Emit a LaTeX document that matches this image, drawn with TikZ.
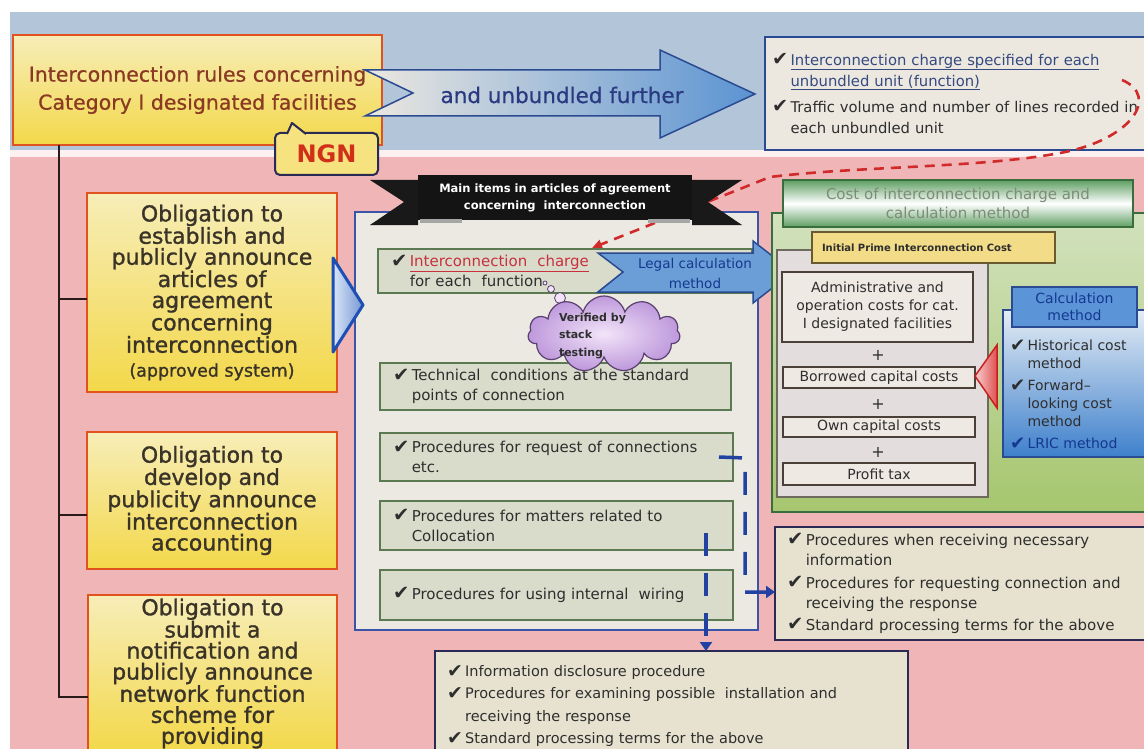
\documentclass[tikz,border=0pt]{standalone}
\usepackage{fontspec}
\setmainfont{DejaVu Sans}
\newfontfamily\heavyfont[FakeBold=1.2]{DejaVu Sans}
\newfontfamily\mediumfont[FakeBold=0.6]{DejaVu Sans}
\usetikzlibrary{shapes.symbols,arrows.meta,calc}

% palette
\definecolor{bandblue}{HTML}{B3C6D9}
\definecolor{bandpink}{HTML}{EFB5B7}
\definecolor{obred}{HTML}{E0521E}
\definecolor{yellowtop}{HTML}{F7EDB8}
\definecolor{yellowbot}{HTML}{F3D84A}
\definecolor{obtext}{HTML}{3A3328}
\definecolor{titletext}{HTML}{8A3A22}
\definecolor{navy}{HTML}{2A4A92}
\definecolor{arrowblue}{HTML}{5A93D2}
\definecolor{paper}{HTML}{ECE8E0}
\definecolor{panelfill}{HTML}{ECE8E2}
\definecolor{panelline}{HTML}{3A55A8}
\definecolor{itemfill}{HTML}{D9DCCB}
\definecolor{itemline}{HTML}{5B7A52}
\definecolor{itemtext}{HTML}{2E2E2E}
\definecolor{chargered}{HTML}{C8303E}
\definecolor{dashred}{HTML}{D02A2A}
\definecolor{greenline}{HTML}{3A6E3E}
\definecolor{greentop}{HTML}{D2E2BE}
\definecolor{greenbot}{HTML}{A6C66E}
\definecolor{greenmid}{HTML}{5E9E62}
\definecolor{greentext}{HTML}{7C8C78}
\definecolor{marble}{HTML}{E3DDDE}
\definecolor{marbleline}{HTML}{6E6A5E}
\definecolor{costfill}{HTML}{EFE9E3}
\definecolor{costline}{HTML}{4A4038}
\definecolor{primefill}{HTML}{F2DC88}
\definecolor{primeline}{HTML}{6A5A30}
\definecolor{calclight}{HTML}{E4ECF4}
\definecolor{calcblue}{HTML}{3E80CC}
\definecolor{calchead}{HTML}{5C94D8}
\definecolor{calcnavy}{HTML}{143890}
\definecolor{procfill}{HTML}{E6E2CF}
\definecolor{procline}{HTML}{2A2A55}
\definecolor{lavtop}{HTML}{F2E4F8}
\definecolor{lavbot}{HTML}{BE98DC}
\definecolor{lavline}{HTML}{5A4070}
\definecolor{connblue}{HTML}{2242A2}
\definecolor{treeline}{HTML}{2A1A1A}
\definecolor{ngnfill}{HTML}{F6E27E}
\definecolor{ngntext}{HTML}{D0301A}
\definecolor{unbtext}{HTML}{2A3A80}
\definecolor{linkblue}{HTML}{344A80}
\definecolor{tribluein}{HTML}{D8E6F8}
\definecolor{triblueline}{HTML}{1E4FB4}
\definecolor{trired}{HTML}{C82020}
\definecolor{tripink}{HTML}{F6D0D0}
\definecolor{trirose}{HTML}{E05050}

\newcommand\setfs[2]{\fontsize{#1}{#2}\selectfont}
\newcommand\chk{\makebox[1.25em][l]{\raisebox{-0.05em}{\scalebox{1.3}{\bfseries ✔}}}}
\newcommand\chkind{\hspace*{1.25em}}

\tikzset{
  every node/.style={inner sep=0pt, outer sep=0pt},
  obox/.style={draw=obred, line width=2.2pt, top color=yellowtop, bottom color=yellowbot,
    text=obtext, align=center, anchor=north west, font=\heavyfont\setfs{22}{21}},
  tree/.style={draw=treeline, line width=2pt},
  itembox/.style={draw=itemline, line width=1.6pt, fill=itemfill, anchor=north west,
    align=left, inner xsep=13pt, text=itemtext, font=\setfs{15}{20}},
  procbox/.style={draw=procline, line width=1.6pt, fill=procfill, anchor=north west,
    align=left, inner xsep=12pt, text=itemtext},
  costbox/.style={draw=costline, line width=1.3pt, fill=costfill, anchor=north west,
    align=center, font=\setfs{14}{18}, text=itemtext},
  plus/.style={font=\setfs{16}{16}, text=itemtext},
  conn/.style={draw=connblue, line width=3.5pt, dash pattern=on 23pt off 17pt},
  conntip/.style={-{Triangle[length=9pt,width=12pt]}},
  reddash/.style={draw=dashred, line width=2.6pt, dash pattern=on 10pt off 7pt,
    -{Triangle[length=10pt,width=9pt]}},
}

\begin{document}
\begin{tikzpicture}[x=1pt,y=-1pt]
\useasboundingbox (0,0) rectangle (1144,749);

% page background: blue band on top, pink field below
\fill[white] (0,0) rectangle (1144,749);
\fill[bandblue] (10,12) rectangle (1144,150);
\fill[white!80!bandpink] (10,150) rectangle (1144,157);
\fill[bandpink] (10,157) rectangle (1144,749);

% ---------- left column ----------
\node[obox, minimum width=369pt, minimum height=110pt, text=titletext,
      font=\mediumfont\setfs{20.5}{28}] (title) at (13,35)
  {Interconnection rules concerning\\Category I designated facilities};

\node[obox, minimum width=250pt, minimum height=199pt] (ob1) at (87,193)
  {Obligation to\\establish and\\publicly announce\\articles of\\agreement\\concerning\\interconnection\\[3pt]
   {\setfs{17.5}{21}(approved system)}};
\node[obox, minimum width=250pt, minimum height=137pt] (ob2) at (87,432)
  {Obligation to\\develop and\\publicity announce\\interconnection\\accounting};
\node[obox, minimum width=249pt, minimum height=157pt] (ob3) at (88,595)
  {Obligation to\\submit a\\notification and\\publicly announce\\network function\\scheme for\\providing};

% tree joining the obligations to the rules
\coordinate (trunk) at (59,145);
\coordinate (b1) at ([yshift=-6.5pt]ob1.west);
\coordinate (b2) at ([yshift=-14.5pt]ob2.west);
\coordinate (b3) at ([yshift=-23.5pt]ob3.west);
\draw[tree] (trunk) -- (trunk |- b3) -- (b3);
\draw[tree] (trunk |- b1) -- (b1);
\draw[tree] (trunk |- b2) -- (b2);

% ---------- big arrow "and unbundled further" ----------
\path[draw=navy, line width=1.5pt, left color=paper, right color=arrowblue]
  (365,70) -- (660,70) -- (660,50) -- (755,94) -- (660,138) -- (660,116)
  -- (365,116) -- (413,93) -- cycle;
\node[text=unbtext, font=\mediumfont\setfs{21.5}{24}] (unb) at (562,95) {and unbundled further};

% NGN callout
\node[draw=procline, line width=2pt, rounded corners=5pt, fill=ngnfill,
      minimum width=103pt, minimum height=42pt, anchor=north west, text=ngntext,
      font=\bfseries\setfs{24}{24}] (ngn) at (275,133) {NGN};
\fill[ngnfill] (287,135) -- (292,123) -- (306,135) -- cycle;
\draw[procline, line width=2pt, line join=round] (287,134) -- (292,123) -- (306,134);

% ---------- unbundled units box ----------
\node[draw=navy, line width=1.6pt, fill=paper, anchor=north west, minimum width=385pt,
      minimum height=113pt, text width=371pt, inner xsep=7pt, align=left,
      text=itemtext, font=\setfs{14.8}{21}] (unit) at (765,37)
  {\chk\textcolor{linkblue}{\underline{Interconnection charge specified for each}}\\
   \chkind\textcolor{linkblue}{\underline{unbundled unit (function)}}\\[5pt]
   \chk Traffic volume and number of lines recorded in\\
   \chkind each unbundled unit};

% ---------- main items panel ----------
\node[draw=panelline, line width=1.6pt, fill=panelfill, anchor=north west,
      minimum width=403pt, minimum height=418pt] (panel) at (355,212) {};

% dashed red link from the unbundled units to the charge item
\coordinate (rdA) at (1122,80);
\coordinate (rdB) at (592,248);
\draw[reddash] (rdA) .. controls (1160,96) and (1132,140) .. (1060,153)
  .. controls (980,168) and (860,166) .. (770,177) -- (rdB);

% black ribbon banner
\fill[black!90] (370,180) -- (418,180) -- (418,225) -- (370,225) -- (404,202) -- cycle;
\fill[black!90] (692,180) -- (742,180) -- (708,202) -- (742,225) -- (692,225) -- cycle;
\node[fill=black!92, minimum width=274pt, minimum height=45pt, anchor=north west,
      text=white, align=center, font=\bfseries\setfs{11.5}{17}] (banner) at (418,175)
  {Main items in articles of agreement\\concerning\ \ interconnection};
\fill[black!35] (420,219) rectangle (462,223);
\fill[black!35] (648,219) rectangle (690,223);

% items
\node[itembox, minimum width=374pt, minimum height=44pt, text width=348pt] (it1) at (378,249)
  {\chk\textcolor{chargered}{\underline{Interconnection\ \ charge}}\\\chkind for each\ \ function};
\node[itembox, minimum width=351pt, minimum height=47pt, text width=325pt] (it2) at (380,363)
  {\chk Technical\ \ conditions at the standard\\\chkind points of connection};
\node[itembox, minimum width=353pt, minimum height=48pt, text width=327pt] (it3) at (380,433)
  {\chk Procedures for request of connections\\\chkind etc.};
\node[itembox, minimum width=353pt, minimum height=49pt, text width=327pt] (it4) at (380,501)
  {\chk Procedures for matters related to\\\chkind Collocation};
\node[itembox, minimum width=353pt, minimum height=50pt, text width=327pt] (it5) at (380,570)
  {\chk Procedures for using internal\ \ wiring};

% legal calculation arrow
\path[draw=navy, line width=1.5pt, fill=arrowblue!90!white]
  (598,253) -- (753,253) -- (753,241) -- (793,272) -- (753,303) -- (753,292)
  -- (598,292) -- (623,272) -- cycle;
\node[text=calcnavy, align=center, font=\setfs{13.5}{20}] (legal) at (695,273)
  {Legal calculation\\method};

% thought bubble
\draw[lavline, line width=0.8pt, fill=lavtop] (545,283) circle (2pt);
\draw[lavline, line width=0.8pt, fill=lavtop] (551,289) circle (3.5pt);
\draw[lavline, line width=0.8pt, fill=lavtop] (560,298) circle (5.5pt);
\node[cloud, cloud puffs=11, cloud ignores aspect, minimum width=152pt, minimum height=76pt,
      draw=lavline, line width=1.2pt, inner color=lavtop, outer color=lavbot] (cloud) at (604,334) {};
\node[anchor=west, align=left, text=itemtext, font=\bfseries\setfs{11}{17.5}] (cloudtxt) at (559,336)
  {Verified by\\stack\\testing};

% ---------- cost panel ----------
\node[draw=greenline, line width=1.5pt, top color=greentop, bottom color=greenbot,
      anchor=north west, minimum width=378pt, minimum height=299pt] (green) at (772,213) {};
\node[draw=greenline, line width=1.5pt, top color=greenmid, bottom color=greenmid, middle color=white,
      anchor=north west, minimum width=350pt, minimum height=47pt, align=center,
      text=greentext, font=\setfs{15}{19}] (costtitle) at (783,180)
  {Cost of interconnection charge and\\calculation method};

\node[draw=marbleline, line width=1.3pt, fill=marble, anchor=north west,
      minimum width=211pt, minimum height=247pt] (marb) at (777,250) {};
\node[draw=primeline, line width=1.3pt, fill=primefill, anchor=north west,
      minimum width=243pt, minimum height=31pt, text width=223pt, inner xsep=10pt,
      align=left, text=itemtext, font=\bfseries\setfs{10}{12}] (prime) at (812,232)
  {Initial Prime Interconnection Cost};

\node[costbox, minimum width=191pt, minimum height=70pt] (admin) at (782,272)
  {Administrative and\\operation costs for cat.\\I designated facilities};
\node[plus] (p1) at (878,355) {+};
\node[costbox, minimum width=192pt, minimum height=21pt] (borrow) at (783,367) {Borrowed capital costs};
\node[plus] (p2) at (878,404) {+};
\node[costbox, minimum width=192pt, minimum height=20pt] (own) at (783,417) {Own capital costs};
\node[plus] (p3) at (878,452) {+};
\node[costbox, minimum width=192pt, minimum height=22pt] (profit) at (783,463) {Profit tax};

% red pointer from the calculation methods
\path[draw=trired, line width=1.5pt, left color=tripink, right color=trirose]
  (997,345) -- (975,376) -- (997,408) -- cycle;

% calculation method
\node[draw=navy, line width=1.5pt, top color=calclight, bottom color=calcblue,
      anchor=north west, minimum width=147pt, minimum height=147pt] (calcbody) at (1003,310) {};
\node[draw=navy, line width=1.5pt, fill=calchead, anchor=north west,
      minimum width=125pt, minimum height=40pt, align=center, text=calcnavy,
      font=\setfs{14}{17}] (calchd) at (1012,287) {Calculation\\method};
\node[anchor=north west, align=left, text=itemtext, font=\setfs{14}{18}] (calctxt) at (1010,340)
  {\chk Historical cost\\\chkind method\\[4pt]\chk Forward–\\\chkind looking cost\\\chkind method\\[4pt]
   \textcolor{calcnavy}{\chk LRIC method}};

% ---------- procedure boxes ----------
\node[procbox, minimum width=375pt, minimum height=113pt, text width=351pt,
      font=\setfs{15}{20}] (lr) at (775,527)
  {\chk Procedures when receiving necessary\\\chkind information\\[3pt]
   \chk Procedures for requesting connection and\\\chkind receiving the response\\[2pt]
   \chk Standard processing terms for the above};
\node[procbox, minimum width=473pt, minimum height=110pt, text width=449pt,
      font=\setfs{14.5}{22.5}] (bot) at (435,651)
  {\chk Information disclosure procedure\\
   \chk Procedures for examining possible\ \ installation and\\\chkind receiving the response\\
   \chk Standard processing terms for the above};

% dashed blue connectors to the procedure boxes
\coordinate (c1s) at ([xshift=-14pt]it3.east);
\coordinate (c1k) at (745,458);
\draw[conn, conntip] (c1s) -- (c1k) -- (c1k |- lr.west) ++(0,8.5) -- ([yshift=-8.5pt]lr.west);
\coordinate (c2s) at (706,533);
\draw[conn, conntip] (c2s) -- (c2s |- bot.north);

% blue pointer into the items panel
\path[draw=triblueline, line width=3pt, line join=round, left color=tribluein, right color=triblueline!60!white]
  (333,258) -- (363,305) -- (333,352) -- cycle;

\end{tikzpicture}
\end{document}
